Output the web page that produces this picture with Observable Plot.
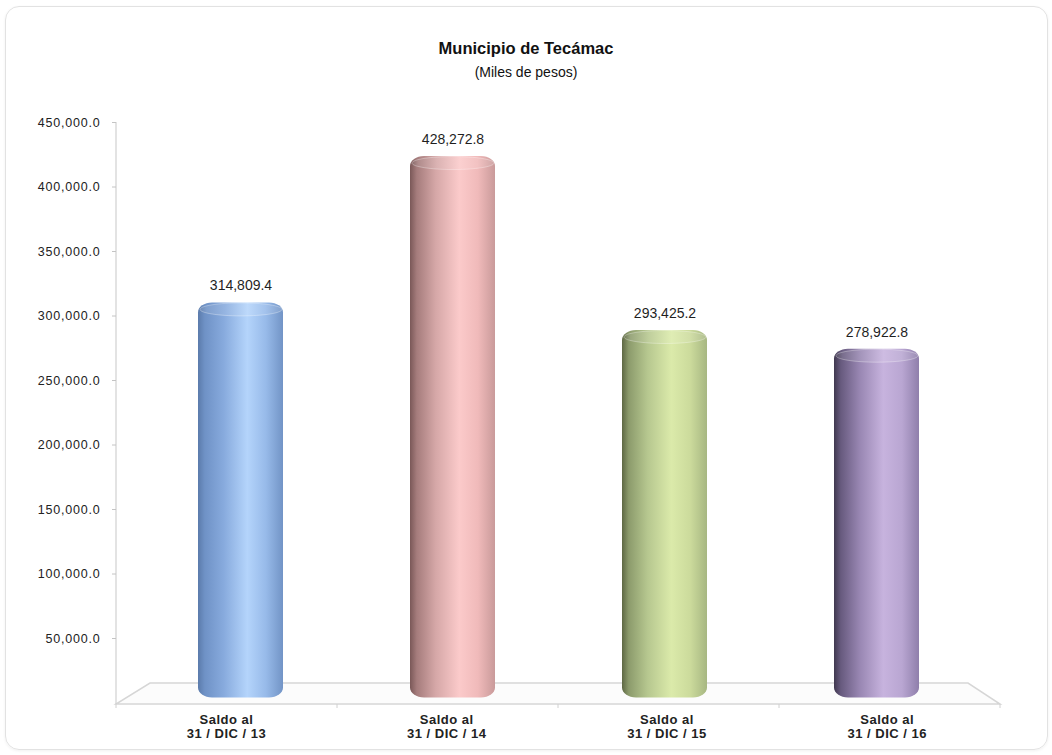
<!DOCTYPE html>
<html><head><meta charset="utf-8">
<script src="https://cdn.jsdelivr.net/npm/d3@7"></script>
<script src="https://cdn.jsdelivr.net/npm/@observablehq/plot@0.6"></script>
<style>
html,body{margin:0;padding:0;background:#fff;overflow:hidden;}
#wrap{position:relative;width:1052px;height:755px;font-family:"Liberation Sans",Arial,sans-serif;}
#frame{position:absolute;left:5px;top:6px;width:1041px;height:742px;border:1.5px solid #e2e2e2;border-radius:14px;box-shadow:0 1px 3px rgba(0,0,0,0.06);}
#title{position:absolute;left:0;top:38px;width:1052px;text-align:center;font-weight:bold;font-size:16.5px;line-height:20px;color:#111;}
#subtitle{position:absolute;left:0;top:63px;width:1052px;text-align:center;font-size:14px;line-height:18px;color:#111;}
#chart{position:absolute;left:0;top:100px;}
#chart svg{color:#222;}
g[aria-label="y-axis tick"]{stroke:#c4c4c4;}
g[aria-label="y-axis tick label"] text{letter-spacing:0.8px;}
g[aria-label="x-axis tick label"] text{letter-spacing:0.5px;}
g[aria-label="value label"] text{letter-spacing:0.9px;}
</style>
</head>
<body>
<div id="wrap">
  <div id="frame"></div>
  <div id="title">Municipio de Tecámac</div>
  <div id="subtitle">(Miles de pesos)</div>
  <div id="chart"></div>
</div>
<svg width="0" height="0" style="position:absolute;left:0;top:0" id="defs-holder"><defs id="grads"></defs></svg>
<script>
// ---- data ----
const categories = ["31 / DIC / 13", "31 / DIC / 14", "31 / DIC / 15", "31 / DIC / 16"];
const values = [314809.4, 428272.8, 293425.2, 278922.8];
const yTicks = [50000, 100000, 150000, 200000, 250000, 300000, 350000, 400000, 450000];
const xLabelPrefix = "Saldo al";
const bodyStops = [
  [[0, "#5b7bab"], [0.08, "#6f92c6"], [0.3, "#87aadd"], [0.58, "#b4d4fb"], [0.8, "#97bae9"], [1, "#7294c6"]],
  [[0, "#7a5858"], [0.08, "#a57c7c"], [0.3, "#d5a7a7"], [0.58, "#fbcaca"], [0.8, "#f0baba"], [1, "#c99a9a"]],
  [[0, "#5e6844"], [0.08, "#8c9b6c"], [0.3, "#b6c78f"], [0.58, "#dbeaaa"], [0.8, "#ccdb9c"], [1, "#a7b782"]],
  [[0, "#40384f"], [0.08, "#675a7e"], [0.3, "#9886b2"], [0.58, "#c7b3de"], [0.8, "#b9a6d2"], [1, "#8f7fab"]]
];

// ---- gradients ----
const defs = d3.select("#grads");
bodyStops.forEach((stops, i) => {
  const g = defs.append("linearGradient").attr("id", "body" + i).attr("x1", 0).attr("x2", 1).attr("y1", 0).attr("y2", 0);
  stops.forEach(([o, c]) => g.append("stop").attr("offset", o).attr("stop-color", c));
  const cg = defs.append("linearGradient").attr("id", "cap" + i).attr("x1", 0).attr("x2", 1).attr("y1", 0).attr("y2", 0);
  stops.forEach(([o, c]) => cg.append("stop").attr("offset", o).attr("stop-color", d3.interpolateRgb(c, "#ffffff")(0.12)));
});

const data = categories.map((cat, i) => ({cat, value: values[i], i}));
const fmt = d3.format(",.1f");

const capSymbol = {
  draw(ctx) {
    const a = 41, b = 6.5, k = 0.5523;
    ctx.moveTo(-a, 0);
    ctx.bezierCurveTo(-a, -b * k, -a * k, -b, 0, -b);
    ctx.bezierCurveTo(a * k, -b, a, -b * k, a, 0);
    ctx.bezierCurveTo(a, b * k, a * k, b, 0, b);
    ctx.bezierCurveTo(-a * k, b, -a, b * k, -a, 0);
    ctx.closePath();
  }
};

const W = 1052, H = 655, mL = 116, mR = 52, mT = 22, mB = 52.5;
const depthX = 17;  // half depth offset of the 3D floor

const plot = Plot.plot({
  width: W, height: H,
  marginLeft: mL, marginRight: mR, marginTop: mT, marginBottom: mB,
  style: {fontFamily: '"Liberation Sans", Arial, sans-serif', background: "transparent", overflow: "visible"},
  x: {domain: categories, range: [mL + depthX, W - mR - depthX + 1], paddingInner: 0.6, paddingOuter: 0.3, align: 0.5},
  y: {domain: [0, 450000]},
  color: {type: "identity"},
  marks: [
    Plot.axisY({ticks: yTicks, tickFormat: fmt, tickSize: 4, tickPadding: 12, fontSize: 12.5, label: null}),
    Plot.axisX({tickSize: 0, tickPadding: 11, fontSize: 13, fontWeight: "bold", lineHeight: 1.08, label: null,
      tickFormat: d => `${xLabelPrefix}\n${d}`}),
    Plot.barY(data, {x: "cat", y: "value", fill: d => `url(#body${d.i})`, rx: 14, ry: 10, dy: 6, insetBottom: 11}),
    Plot.dot(data, {x: "cat", y: "value", symbol: capSymbol, r: 5, fill: d => `url(#cap${d.i})`,
      stroke: "rgba(255,255,255,0.3)", strokeWidth: 1, dy: 12.5}),
    Plot.text(data, {x: "cat", y: "value", text: d => fmt(d.value), dy: -11, fontSize: 14, fill: "#1f1f1f", ariaLabel: "value label"})
  ]
});

document.getElementById("chart").appendChild(plot);

// ---- 3D floor and axis line (derived from the scales) ----
const sy = plot.scale("y");
const sx = plot.scale("x");
const y0 = sy.apply(0);
const fL = mL, fR = W - mR;               // front plane
const yF = y0 + 1.5, yB = y0 - 19.5;       // floor front/back
const bL = fL + 2 * depthX, bR = fR - 2 * depthX + 2;
const svg = d3.select(plot);
const deco = svg.insert("g", "g").attr("aria-label", "floor").attr("fill", "none");
deco.append("path")
  .attr("d", `M${fL},${yF}L${fR},${yF}L${bR},${yB}L${bL},${yB}Z`)
  .attr("stroke", "#d6d6d6").attr("stroke-width", 1.5).attr("fill", "#fcfcfc");
deco.append("line").attr("x1", fL).attr("x2", fL).attr("y1", sy.apply(450000)).attr("y2", yF)
  .attr("stroke", "#d0d0d0").attr("stroke-width", 1.2);
const n = categories.length, step = (fR - fL) / n;
for (let k = 0; k <= n; k++) {
  deco.append("line").attr("x1", fL + k * step).attr("x2", fL + k * step).attr("y1", yF).attr("y2", yF + 4)
    .attr("stroke", "#d0d0d0").attr("stroke-width", 1);
}

// x labels sit on the front plane of the floor: stretch positions from mid plane to front plane
const [r0, r1] = sx.range;
const kf = (fR - fL) / (r1 - r0);
svg.selectAll('g[aria-label="x-axis tick label"] text').each(function() {
  const t = this.getAttribute("transform");
  const m = t && t.match(/translate\(\s*([-\d.e]+)\s*,\s*([-\d.e]+)\s*\)/);
  if (m) {
    const nx = fL + (parseFloat(m[1]) - r0) * kf;
    this.setAttribute("transform", `translate(${nx},${m[2]})`);
  } else if (this.hasAttribute("x")) {
    const nx = fL + (parseFloat(this.getAttribute("x")) - r0) * kf;
    this.setAttribute("x", nx);
  }
});
</script>
</body></html>
